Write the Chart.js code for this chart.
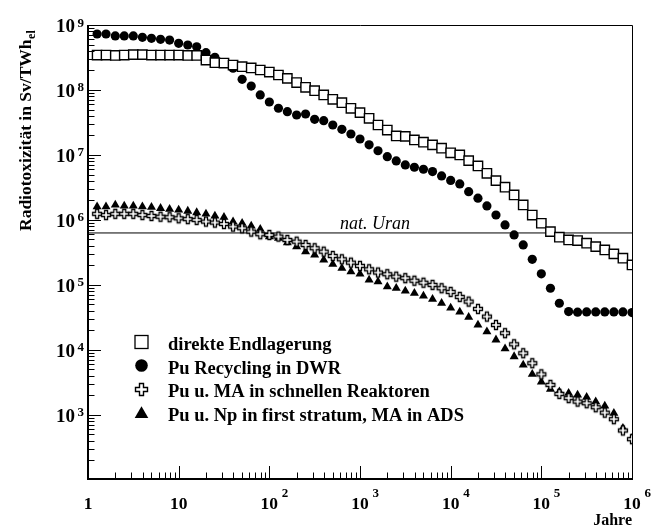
<!DOCTYPE html>
<html>
<head>
<meta charset="utf-8">
<script src="https://cdn.jsdelivr.net/npm/chart.js@4/dist/chart.umd.min.js"></script>
<style>
html,body{margin:0;padding:0;background:#fff;}
canvas{display:block;}
</style>
</head>
<body>
<canvas id="c" width="651" height="528"></canvas>
<script>
// ---- data ----
const years = [
  1.26, 1.58, 2.00, 2.51, 3.16, 3.98, 5.01, 6.31, 7.94, 10,
  12.6, 15.8, 20.0, 25.1, 31.6, 39.8, 50.1, 63.1, 79.4, 100,
  126, 158, 200, 251, 316, 398, 501, 631, 794, 1000,
  1260, 1580, 2000, 2510, 3160, 3980, 5010, 6310, 7940, 10000,
  12600, 15800, 20000, 25100, 31600, 39800, 50100, 63100, 79400, 100000,
  126000, 158000, 200000, 251000, 316000, 398000, 501000, 631000, 794000, 1000000
];
const direkteEndlagerung = [
  3.45e8, 3.45e8, 3.40e8, 3.45e8, 3.50e8, 3.50e8, 3.45e8, 3.45e8, 3.45e8, 3.45e8,
  3.40e8, 3.40e8, 2.89e8, 2.63e8, 2.60e8, 2.42e8, 2.28e8, 2.18e8, 2.03e8, 1.89e8,
  1.70e8, 1.51e8, 1.30e8, 1.10e8, 9.76e7, 8.38e7, 7.19e7, 6.38e7, 5.23e7, 4.48e7,
  3.67e7, 2.89e7, 2.42e7, 1.96e7, 1.93e7, 1.70e7, 1.57e7, 1.43e7, 1.27e7, 1.08e7,
  1.00e7, 8.17e6, 6.77e6, 5.22e6, 4.03e6, 3.19e6, 2.42e6, 1.70e6, 1.19e6, 8.89e5,
  6.61e5, 5.42e5, 4.92e5, 4.81e5, 4.38e5, 3.88e5, 3.45e5, 3.00e5, 2.58e5, 2.03e5
];
const puRecyclingDWR = [
  7.27e8, 7.27e8, 6.78e8, 6.78e8, 6.78e8, 6.47e8, 6.24e8, 6.02e8, 5.87e8, 5.23e8,
  4.92e8, 4.63e8, 3.75e8, 3.19e8, 2.63e8, 2.16e8, 1.46e8, 1.15e8, 8.38e7, 6.53e7,
  5.23e7, 4.63e7, 4.12e7, 4.27e7, 3.54e7, 3.37e7, 2.89e7, 2.48e7, 2.10e7, 1.76e7,
  1.43e7, 1.16e7, 9.42e6, 8.09e6, 7.02e6, 6.47e6, 6.03e6, 5.54e6, 4.75e6, 4.06e6,
  3.58e6, 2.72e6, 2.16e6, 1.64e6, 1.19e6, 8.38e5, 5.87e5, 4.12e5, 2.48e5, 1.48e5,
  8.89e4, 5.22e4, 3.88e4, 3.80e4, 3.84e4, 3.84e4, 3.84e4, 3.84e4, 3.84e4, 3.75e4
];
const puMASchnell = [
  1.24e6, 1.19e6, 1.24e6, 1.24e6, 1.24e6, 1.19e6, 1.15e6, 1.12e6, 1.10e6, 1.06e6,
  1.03e6, 1.00e6, 9.42e5, 9.09e5, 8.67e5, 7.89e5, 7.45e5, 6.61e5, 6.03e5, 5.87e5,
  5.54e5, 4.92e5, 4.63e5, 4.12e5, 3.67e5, 3.25e5, 2.79e5, 2.48e5, 2.20e5, 1.96e5,
  1.74e5, 1.55e5, 1.46e5, 1.34e5, 1.27e5, 1.16e5, 1.08e5, 1.00e5, 8.89e4, 7.80e4,
  6.53e4, 5.54e4, 4.27e4, 3.25e4, 2.42e4, 1.81e4, 1.22e4, 8.89e3, 6.24e3, 4.20e3,
  2.89e3, 2.10e3, 1.81e3, 1.60e3, 1.51e3, 1.31e3, 1.08e3, 8.58e2, 5.75e2, 4.23e2
];
const puNpADS = [
  1.60e6, 1.60e6, 1.70e6, 1.64e6, 1.64e6, 1.60e6, 1.57e6, 1.51e6, 1.46e6, 1.43e6,
  1.37e6, 1.30e6, 1.24e6, 1.15e6, 1.10e6, 9.42e5, 8.89e5, 8.09e5, 7.19e5, 5.54e5,
  5.23e5, 4.48e5, 3.88e5, 3.25e5, 2.89e5, 2.42e5, 2.08e5, 1.81e5, 1.60e5, 1.48e5,
  1.19e5, 1.12e5, 9.42e4, 8.89e4, 8.09e4, 7.45e4, 6.77e4, 6.03e4, 5.22e4, 4.43e4,
  3.84e4, 3.19e4, 2.42e4, 1.91e4, 1.43e4, 1.04e4, 7.89e3, 5.87e3, 4.23e3, 3.22e3,
  2.48e3, 2.28e3, 2.16e3, 2.03e3, 1.87e3, 1.60e3, 1.37e3, 1.06e3, 6.24e2, 4.38e2
];
const natUran = 6.3e5;
const seriesLabels = [
  'direkte Endlagerung',
  'Pu Recycling in DWR',
  'Pu u. MA in schnellen Reaktoren',
  'Pu u. Np in first stratum, MA in ADS'
];
const xTickExp = [0, 1, 2, 3, 4, 5, 6];
const yTickExp = [3, 4, 5, 6, 7, 8, 9];

// ---- open cross marker ----
function makeCross(s, t, lw) {
  const pad = 2;
  const cv = document.createElement('canvas');
  cv.width = s + pad * 2 + 1; cv.height = s + pad * 2 + 1;
  const g = cv.getContext('2d');
  const a = (s - t) / 2, b = (s + t) / 2, o = pad + 0.5;
  g.beginPath();
  g.moveTo(o + a, o); g.lineTo(o + b, o); g.lineTo(o + b, o + a); g.lineTo(o + s, o + a);
  g.lineTo(o + s, o + b); g.lineTo(o + b, o + b); g.lineTo(o + b, o + s); g.lineTo(o + a, o + s);
  g.lineTo(o + a, o + b); g.lineTo(o, o + b); g.lineTo(o, o + a); g.lineTo(o + a, o + a);
  g.closePath();
  g.fillStyle = '#fff'; g.fill();
  g.lineWidth = lw; g.strokeStyle = '#000'; g.stroke();
  return cv;
}
const crossSmall = makeCross(9, 3, 1.3);
const crossBig = makeCross(12, 4, 1.4);

const pts = arr => arr.map((v, i) => ({ x: years[i], y: v }));

const SERIF = '"Liberation Serif", "DejaVu Serif", serif';

function txt(ctx, s, x, y, size, align, style) {
  ctx.save();
  ctx.font = (style || 'bold') + ' ' + size + 'px ' + SERIF;
  ctx.textAlign = align;
  ctx.textBaseline = 'alphabetic';
  ctx.fillStyle = '#000';
  ctx.fillText(s, x, y);
  ctx.restore();
}

const decor = {
  id: 'decor',
  afterDraw(chart) {
    const ctx = chart.ctx;
    const xs = chart.scales.x, ys = chart.scales.y;
    const A = chart.chartArea;
    ctx.save();
    ctx.strokeStyle = '#000';
    // frame
    ctx.lineWidth = 1;
    ctx.beginPath();
    ctx.moveTo(A.left, A.top + 0.5); ctx.lineTo(A.right + 0.5, A.top + 0.5);
    ctx.lineTo(A.right + 0.5, A.bottom);
    ctx.stroke();
    ctx.lineWidth = 2;
    ctx.beginPath();
    ctx.moveTo(A.left, A.top); ctx.lineTo(A.left, A.bottom); ctx.lineTo(A.right + 1, A.bottom);
    ctx.stroke();
    // ticks
    ctx.lineWidth = 1;
    ctx.beginPath();
    for (let n = 0; n <= 6; n++) {
      for (let m = 1; m <= 9; m++) {
        const v = m * Math.pow(10, n);
        if (v > 1e6) continue;
        const px = Math.round(xs.getPixelForValue(v)) + 0.5;
        const len = m === 1 ? 13 : 6.5;
        ctx.moveTo(px, A.bottom); ctx.lineTo(px, A.bottom - len);
      }
    }
    for (let n = 2; n <= 9; n++) {
      for (let m = 1; m <= 9; m++) {
        const v = m * Math.pow(10, n);
        if (v > 1e9 || v < ys.min) continue;
        const py = Math.round(ys.getPixelForValue(v)) + 0.5;
        const len = m === 1 ? 13 : 6.5;
        ctx.moveTo(A.left, py); ctx.lineTo(A.left + len, py);
      }
    }
    ctx.stroke();
    // y tick labels
    yTickExp.forEach(n => {
      const py = ys.getPixelForValue(Math.pow(10, n));
      txt(ctx, '10', 75, py + 7, 19, 'right');
      txt(ctx, String(n), 77.5, py + 1.5, 13, 'left');
    });
    // x tick labels
    xTickExp.forEach(n => {
      const px = xs.getPixelForValue(Math.pow(10, n));
      if (n === 0) txt(ctx, '1', px, 508.5, 17.5, 'center');
      else if (n === 1) txt(ctx, '10', px, 508.5, 17.5, 'center');
      else {
        txt(ctx, '10', px, 508.5, 17.5, 'center');
        txt(ctx, String(n), px + 12.5, 496.5, 13, 'left');
      }
    });
    // axis titles
    txt(ctx, 'Jahre', A.right, 525, 16, 'right');
    ctx.save();
    ctx.translate(31, 231);
    ctx.rotate(-Math.PI / 2);
    ctx.font = 'bold 17.5px ' + SERIF;
    ctx.textAlign = 'left'; ctx.textBaseline = 'alphabetic'; ctx.fillStyle = '#000';
    const main = 'Radiotoxizität in Sv/TWh';
    ctx.fillText(main, 0, 0);
    const w = ctx.measureText(main).width;
    ctx.font = 'bold 12px ' + SERIF;
    ctx.fillText('el', w + 0.5, 4);
    ctx.restore();
    // nat. Uran label
    txt(ctx, 'nat. Uran', xs.getPixelForValue(600), ys.getPixelForValue(natUran) - 3.5, 18, 'left', 'italic');
    // legend
    const lx = 141.5, ly0 = 342, dy = 23.5, tx = 168;
    seriesLabels.forEach((lab, i) => {
      const cy = ly0 + i * dy;
      ctx.save();
      ctx.lineWidth = 1.3; ctx.strokeStyle = '#000'; ctx.fillStyle = '#000';
      if (i === 0) {
        ctx.fillStyle = '#fff';
        ctx.fillRect(lx - 6.5, cy - 6.5, 13, 13);
        ctx.strokeRect(lx - 6.5, cy - 6.5, 13, 13);
      } else if (i === 1) {
        ctx.beginPath(); ctx.arc(lx, cy, 6.3, 0, Math.PI * 2); ctx.fill();
      } else if (i === 2) {
        ctx.drawImage(crossBig, Math.round(lx - crossBig.width / 2), Math.round(cy - crossBig.height / 2));
      } else {
        ctx.beginPath();
        ctx.moveTo(lx, cy - 6.3); ctx.lineTo(lx + 6.8, cy + 5.5); ctx.lineTo(lx - 6.8, cy + 5.5);
        ctx.closePath(); ctx.fill();
      }
      ctx.restore();
      txt(ctx, lab, tx, cy + 8, 18.5, 'left');
    });
    ctx.restore();
  }
};

new Chart(document.getElementById('c'), {
  type: 'scatter',
  data: {
    datasets: [
      { label: seriesLabels[0], data: pts(direkteEndlagerung), pointStyle: 'rect', pointRadius: 6.6,
        backgroundColor: '#fff', borderColor: '#000', borderWidth: 1.4 },
      { label: seriesLabels[1], data: pts(puRecyclingDWR), pointStyle: 'circle', pointRadius: 4.6,
        backgroundColor: '#000', borderColor: '#000', borderWidth: 0 },
      { label: seriesLabels[2], data: pts(puMASchnell), pointStyle: crossSmall,
        backgroundColor: '#fff', borderColor: '#000' },
      { label: seriesLabels[3], data: pts(puNpADS), pointStyle: 'triangle', pointRadius: 5.2,
        backgroundColor: '#000', borderColor: '#000', borderWidth: 0 },
      { label: 'nat. Uran', data: [{ x: 1, y: natUran }, { x: 1e6, y: natUran }], showLine: true,
        pointRadius: 0, borderColor: '#000', borderWidth: 1, fill: false }
    ]
  },
  options: {
    responsive: false,
    animation: false,
    devicePixelRatio: 1,
    layout: { padding: { left: 88, right: 19, top: 25, bottom: 49 } },
    plugins: { legend: { display: false }, tooltip: { enabled: false } },
    scales: {
      x: { type: 'logarithmic', min: 1, max: 1e6, display: false },
      y: { type: 'logarithmic', min: 103, max: 1e9, display: false }
    }
  },
  plugins: [decor]
});
</script>
</body>
</html>
